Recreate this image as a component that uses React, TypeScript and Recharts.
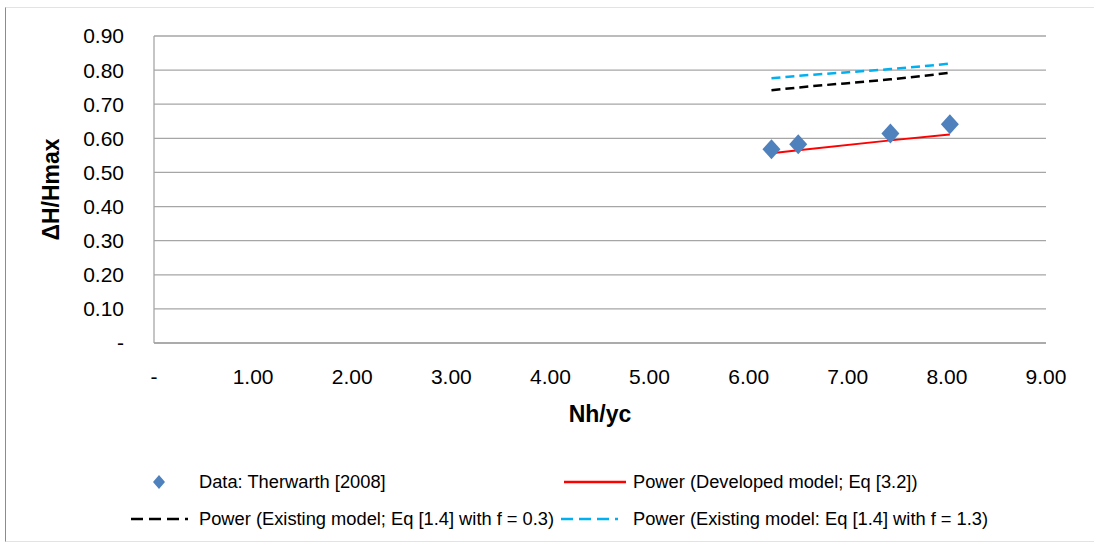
import React from "react";
import {
  ComposedChart,
  Scatter,
  Line,
  XAxis,
  YAxis,
  CartesianGrid,
  Legend,
} from "recharts";

// Nh/yc values of the measured points
const dataX = [6.23, 6.5, 7.43, 8.03];
// ΔH/Hmax measured (Therwarth 2008)
const dataY = [0.568, 0.583, 0.614, 0.641];

// fitted / model curves, read at the same x positions
const curveX = [6.23, 6.5, 7.43, 8.03];
const developedY = [0.556, 0.565, 0.594, 0.611];
const existingLowY = [0.741, 0.749, 0.773, 0.792];
const existingHighY = [0.776, 0.783, 0.803, 0.819];

const xTicks = [0, 1, 2, 3, 4, 5, 6, 7, 8, 9];
const yTicks = [0, 0.1, 0.2, 0.3, 0.4, 0.5, 0.6, 0.7, 0.8, 0.9];

const FONT = "'Liberation Sans', Arial, sans-serif";
const BLUE_PT = "#4f81bd";
const RED = "#ff0000";
const CYAN = "#00b0f0";
const GRID = "#a6a6a6";

const zip = (xs: number[], ys: number[]) => xs.map((x, i) => ({ x, y: ys[i] }));

const points = zip(dataX, dataY);
const developed = zip(curveX, developedY);
const existingLow = zip(curveX, existingLowY);
const existingHigh = zip(curveX, existingHighY);

const fmt = (v: number) => (v === 0 ? "-" : v.toFixed(2));

// diamond marker like the excel one
const Diamond = (props: any) => {
  const { cx, cy } = props;
  if (cx == null || cy == null) return null;
  const w = 9;
  const h = 10;
  return (
    <polygon
      points={`${cx},${cy - h} ${cx + w},${cy} ${cx},${cy + h} ${cx - w},${cy}`}
      fill={BLUE_PT}
    />
  );
};

const legendText: React.CSSProperties = {
  position: "absolute",
  fontFamily: FONT,
  fontSize: 18.3,
  color: "#000",
  whiteSpace: "nowrap",
  lineHeight: "20px",
};

const LegendBox = () => (
  <div style={{ position: "relative", width: 1085, height: 75 }}>
    <svg width={1085} height={75} style={{ position: "absolute", left: 0, top: 0 }}>
      <polygon points="153,9 159,16 153,23 147,16" fill={BLUE_PT} />
      <line x1={558} y1={16} x2={620} y2={16} stroke={RED} strokeWidth={2.5} />
      <line x1={125} y1={53} x2={182} y2={53} stroke="#000" strokeWidth={2.5} strokeDasharray="12 6" />
      <line x1={555} y1={53} x2={612} y2={53} stroke={CYAN} strokeWidth={2.5} strokeDasharray="12 6" />
    </svg>
    <div style={{ ...legendText, left: 193, top: 6 }}>Data: Therwarth [2008]</div>
    <div style={{ ...legendText, left: 627, top: 6 }}>Power (Developed model; Eq [3.2])</div>
    <div style={{ ...legendText, left: 193, top: 43 }}>Power (Existing model; Eq [1.4] with f = 0.3)</div>
    <div style={{ ...legendText, left: 627, top: 43 }}>Power (Existing model: Eq [1.4] with f = 1.3)</div>
  </div>
);

const XLabel = (props: any) => {
  const { viewBox } = props;
  return (
    <text
      x={viewBox.x + viewBox.width / 2}
      y={viewBox.y + 79}
      textAnchor="middle"
      fontFamily={FONT}
      fontSize={23}
      fontWeight="bold"
      fill="#000"
    >
      Nh/yc
    </text>
  );
};

const YLabel = (props: any) => {
  const { viewBox } = props;
  const cx = 45;
  const cy = viewBox.y + viewBox.height / 2;
  return (
    <text
      x={cx}
      y={cy}
      transform={`rotate(-90, ${cx}, ${cy})`}
      textAnchor="middle"
      dominantBaseline="central"
      fontFamily={FONT}
      fontSize={23}
      fontWeight="bold"
      fill="#000"
    >
      ΔH/Hmax
    </text>
  );
};

export default function App() {
  return (
    <div style={{ position: "relative", width: 1094, height: 546, background: "#fff" }}>
      <style>{`body{margin:0;background:#fff}`}</style>
      <div
        style={{
          position: "absolute",
          left: 5,
          top: 7,
          width: 1089,
          height: 533,
          borderLeft: "1px solid #8c8c8c",
          borderTop: "1px solid #e3e3e3",
          borderBottom: "1px solid #e3e3e3",
        }}
      >
        <ComposedChart
          width={1085}
          height={533}
          margin={{ top: 28, right: 45, left: 0, bottom: 0 }}
          style={{ fontFamily: FONT }}
        >
          <CartesianGrid vertical={false} stroke={GRID} strokeWidth={1.3} />
          <XAxis
            type="number"
            dataKey="x"
            domain={[0, 9]}
            ticks={xTicks}
            tickFormatter={fmt}
            interval={0}
            height={123}
            tickLine={false}
            tickSize={0}
            tickMargin={26}
            axisLine={{ stroke: GRID, strokeWidth: 1.3 }}
            tick={{ fill: "#000", fontSize: 21, fontFamily: FONT }}
            label={<XLabel />}
          />
          <YAxis
            type="number"
            dataKey="y"
            domain={[0, 0.9]}
            ticks={yTicks}
            tickFormatter={fmt}
            interval={0}
            width={148}
            tickLine={false}
            tickSize={0}
            tickMargin={30}
            axisLine={{ stroke: GRID, strokeWidth: 1.3 }}
            tick={{ fill: "#000", fontSize: 21, fontFamily: FONT }}
            label={<YLabel />}
          />
          <Legend verticalAlign="bottom" height={75} content={() => <LegendBox />} />
          <Line
            data={existingLow}
            dataKey="y"
            type="monotone"
            stroke="#000"
            strokeWidth={2.5}
            strokeDasharray="9 5"
            dot={false}
            isAnimationActive={false}
          />
          <Line
            data={existingHigh}
            dataKey="y"
            type="monotone"
            stroke={CYAN}
            strokeWidth={2.5}
            strokeDasharray="9 5"
            dot={false}
            isAnimationActive={false}
          />
          <Scatter data={points} dataKey="y" shape={<Diamond />} isAnimationActive={false} />
          <Line
            data={developed}
            dataKey="y"
            type="monotone"
            stroke={RED}
            strokeWidth={2}
            dot={false}
            isAnimationActive={false}
          />
        </ComposedChart>
      </div>
    </div>
  );
}
